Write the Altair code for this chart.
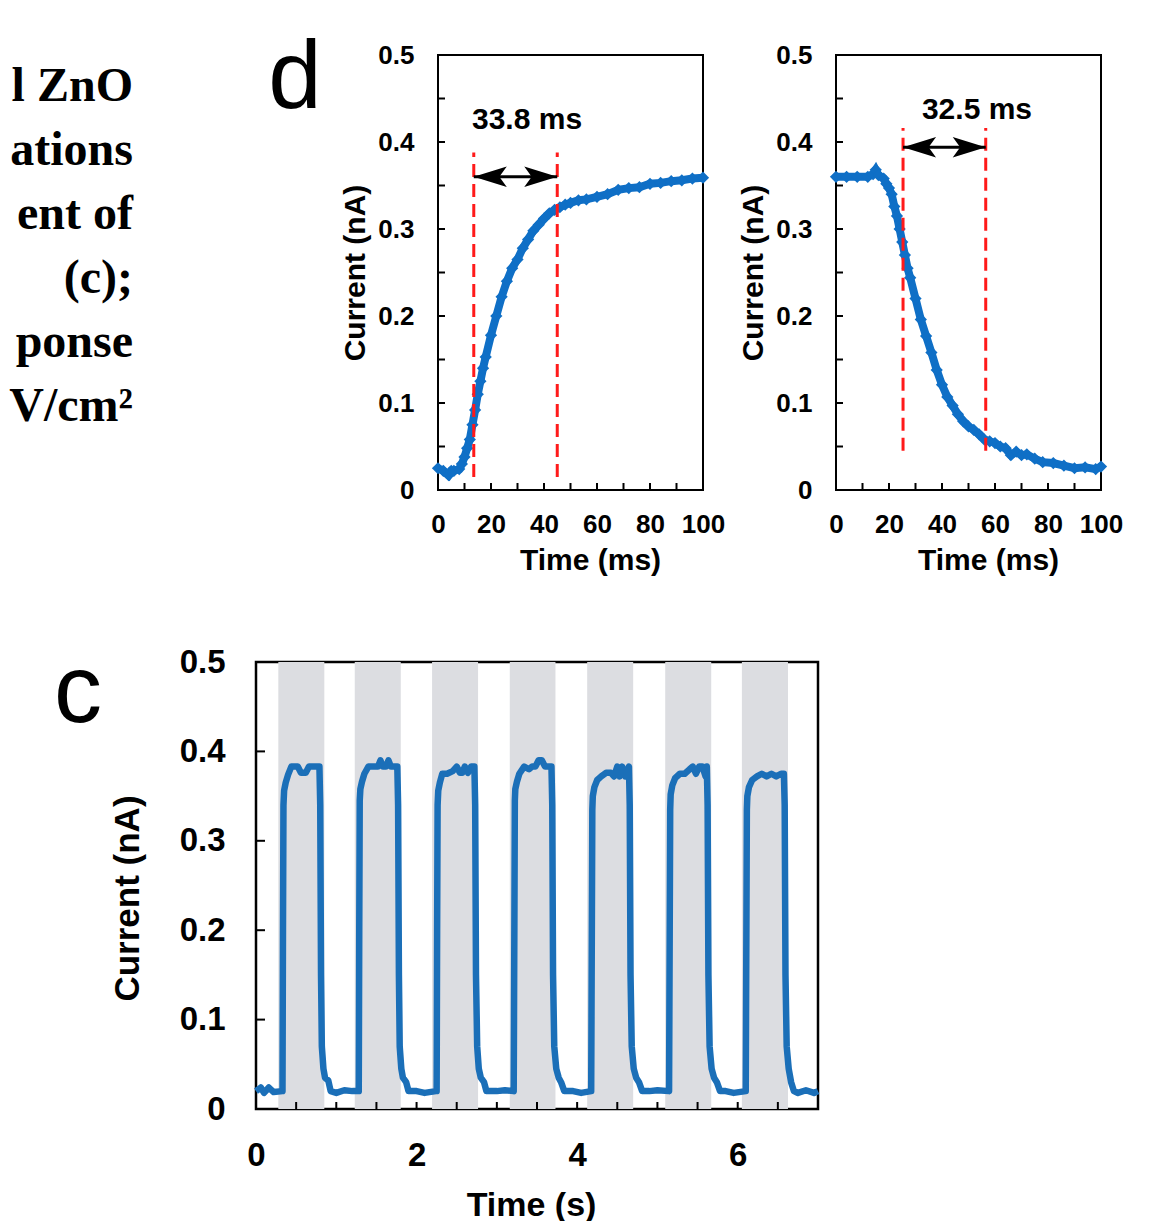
import altair as alt
import pandas as pd

# ---------------- data ----------------
# cropped caption text fragments on the left
text_lines = ["l ZnO", "ations", "ent of", "(c);", "ponse", "V/cm²"]

# panel d, left: rise (ms, nA)
rise_t = [0, 2, 4, 5, 6, 8, 9, 10, 11, 12, 13, 14, 15, 16, 17, 18, 20, 22, 24, 26, 28, 30,
          32, 34, 36, 38, 40, 42, 44, 46, 48, 50, 53, 56, 60, 64, 68, 72, 76, 80, 84, 88,
          92, 96, 100]
rise_i = [0.025, 0.022, 0.017, 0.022, 0.022, 0.024, 0.030, 0.038, 0.048, 0.058, 0.075, 0.092,
          0.110, 0.125, 0.140, 0.153, 0.178, 0.200, 0.222, 0.240, 0.255, 0.265, 0.278, 0.288,
          0.298, 0.305, 0.312, 0.318, 0.322, 0.325, 0.328, 0.330, 0.333, 0.334, 0.337, 0.340,
          0.345, 0.347, 0.348, 0.352, 0.353, 0.355, 0.356, 0.358, 0.359]

# panel d, right: decay (ms, nA)
fall_t = [0, 4, 8, 12, 14, 15, 16, 18, 19, 20, 21, 22, 23, 24, 25, 26, 27, 28, 30, 32, 34, 36,
          38, 40, 42, 44, 46, 48, 50, 52, 54, 56, 58, 60, 62, 64, 66, 68, 70, 72, 75, 78, 82,
          86, 90, 94, 98, 100]
fall_i = [0.360, 0.360, 0.360, 0.360, 0.363, 0.368, 0.362, 0.358, 0.352, 0.347, 0.340, 0.326,
          0.315, 0.300, 0.285, 0.270, 0.255, 0.244, 0.220, 0.196, 0.177, 0.158, 0.138, 0.121,
          0.107, 0.097, 0.087, 0.079, 0.073, 0.069, 0.064, 0.058, 0.056, 0.054, 0.050, 0.048,
          0.040, 0.044, 0.040, 0.041, 0.036, 0.032, 0.031, 0.028, 0.025, 0.026, 0.024, 0.027]

rise_marks = [13.5, 45.0]
rise_red = [0.015, 0.388]
rise_arrow_y = 0.360
rise_label = ["33.8 ms"]
rise_label_x = [33.6]
rise_label_y = [0.425]

fall_marks = [25.3, 56.5]
fall_red = [0.045, 0.416]
fall_arrow_y = 0.394
fall_label = ["32.5 ms"]
fall_label_x = [53.2]
fall_label_y = [0.437]

d_xlabels = [0, 20, 40, 60, 80, 100]
d_xticks = [10, 20, 30, 40, 50, 60, 70, 80, 90]
d_ylabels = [0, 0.1, 0.2, 0.3, 0.4, 0.5]
d_yticks = [0.05, 0.1, 0.15, 0.2, 0.25, 0.3, 0.35, 0.4, 0.45]

# panel c: on/off cycles (s, nA)
c_t = [
    0.00, 0.06, 0.10, 0.16, 0.22, 0.33, 0.336, 0.342, 0.35, 0.37, 0.40, 0.44, 0.52, 0.56, 0.62,
    0.66, 0.70, 0.79, 0.80, 0.81, 0.82, 0.84, 0.86, 0.90, 0.93,
    1.00, 1.10, 1.20, 1.28, 1.286, 1.292, 1.30, 1.32, 1.35, 1.40, 1.48, 1.52, 1.55, 1.58, 1.62,
    1.65, 1.68, 1.76, 1.77, 1.78, 1.79, 1.81, 1.83, 1.87, 1.90,
    2.00, 2.10, 2.24, 2.25, 2.256, 2.262, 2.27, 2.29, 2.32, 2.38, 2.45, 2.50, 2.54, 2.57, 2.60,
    2.64, 2.68, 2.72, 2.73, 2.74, 2.755, 2.775, 2.80, 2.84, 2.87,
    3.00, 3.10, 3.21, 3.218, 3.224, 3.23, 3.25, 3.28, 3.34, 3.40, 3.44, 3.48, 3.52, 3.56, 3.60,
    3.64, 3.68, 3.69, 3.70, 3.715, 3.74, 3.77, 3.80, 3.84,
    3.95, 4.05, 4.175, 4.183, 4.189, 4.195, 4.215, 4.25, 4.30, 4.36, 4.42, 4.46, 4.50, 4.53,
    4.56, 4.60, 4.645, 4.655, 4.665, 4.68, 4.705, 4.735, 4.77, 4.81,
    4.90, 5.00, 5.145, 5.153, 5.159, 5.165, 5.185, 5.22, 5.28, 5.34, 5.40, 5.44, 5.48, 5.52,
    5.56, 5.60, 5.615, 5.625, 5.635, 5.65, 5.675, 5.705, 5.74, 5.78,
    5.85, 5.95, 6.10, 6.108, 6.114, 6.12, 6.14, 6.18, 6.24, 6.30, 6.36, 6.42, 6.48, 6.54, 6.575,
    6.585, 6.595, 6.61, 6.635, 6.665, 6.70, 6.75, 6.85, 6.95, 7.00,
]
c_i = [
    0.020, 0.024, 0.018, 0.024, 0.019, 0.020, 0.200, 0.340, 0.356, 0.365, 0.374, 0.383, 0.383,
    0.376, 0.376, 0.383, 0.383, 0.383, 0.340, 0.150, 0.070, 0.045, 0.035, 0.032, 0.020,
    0.018, 0.021, 0.020, 0.020, 0.200, 0.345, 0.358, 0.366, 0.375, 0.383, 0.383, 0.383, 0.390,
    0.383, 0.383, 0.390, 0.383, 0.383, 0.340, 0.150, 0.070, 0.045, 0.035, 0.030, 0.020,
    0.020, 0.018, 0.020, 0.020, 0.200, 0.340, 0.356, 0.365, 0.375, 0.375, 0.378, 0.383, 0.376,
    0.376, 0.383, 0.376, 0.383, 0.383, 0.340, 0.150, 0.070, 0.045, 0.035, 0.030, 0.020,
    0.020, 0.021, 0.020, 0.200, 0.345, 0.358, 0.366, 0.375, 0.383, 0.380, 0.383, 0.383, 0.390,
    0.390, 0.383, 0.383, 0.383, 0.340, 0.150, 0.070, 0.045, 0.035, 0.030, 0.020,
    0.020, 0.018, 0.020, 0.200, 0.335, 0.350, 0.360, 0.368, 0.372, 0.376, 0.376, 0.372, 0.383,
    0.372, 0.383, 0.372, 0.383, 0.340, 0.150, 0.070, 0.045, 0.035, 0.030, 0.020,
    0.020, 0.021, 0.020, 0.200, 0.335, 0.352, 0.362, 0.370, 0.375, 0.375, 0.380, 0.383, 0.375,
    0.383, 0.383, 0.372, 0.383, 0.340, 0.150, 0.070, 0.045, 0.035, 0.030, 0.020,
    0.020, 0.018, 0.020, 0.200, 0.335, 0.350, 0.360, 0.368, 0.372, 0.375, 0.372, 0.375, 0.372,
    0.375, 0.375, 0.340, 0.150, 0.070, 0.045, 0.030, 0.020, 0.018, 0.021, 0.018, 0.020,
]
band_start = [0.278, 1.230, 2.193, 3.161, 4.125, 5.097, 6.052]
band_end = [0.851, 1.803, 2.766, 3.730, 4.698, 5.670, 6.626]

c_xlabels = [0, 2, 4, 6]
c_xticks = [0.5, 1.0, 1.5, 2.0, 2.5, 3.0, 3.5, 4.0, 4.5, 5.0, 5.5, 6.0, 6.5]
c_ylabels = [0, 0.1, 0.2, 0.3, 0.4, 0.5]
c_yticks = [0.1, 0.2, 0.3, 0.4]

# ---------------- styles ----------------
BLUE_D = "#0f6fc6"
BLUE_C = "#1b6fb8"
RED = "#ff1a1a"
GRAY = "#dcdde1"
SANS = "Liberation Sans"
SERIF = "Liberation Serif"
LEFT_HEAD = "M0,0L2,-0.62L1.55,0L2,0.62Z"
RIGHT_HEAD = "M0,0L-2,-0.62L-1.55,0L-2,0.62Z"
YLAB = "datum.value === 0 ? '0' : format(datum.value, '.1f')"
FRAME_D = alt.ViewBackground(stroke="black", strokeWidth=2)
FRAME_C = alt.ViewBackground(stroke="black", strokeWidth=2.5)
NOFRAME = alt.ViewBackground(strokeWidth=0, strokeOpacity=0)

DW, DH = 265, 435
CW, CH = 562, 447


def d_panel(t, i, marks, red, arrow_y, label, lx, ly):
    xs = alt.Scale(domain=[0, 100], nice=False, zero=False)
    ys = alt.Scale(domain=[0, 0.5], nice=False, zero=False)
    xax = alt.Axis(values=d_xlabels, ticks=False, domain=False, grid=False, labelPadding=21,
                   labelFontSize=26, labelFontWeight="bold", labelFont=SANS, labelColor="black",
                   titleFontSize=30, titlePadding=8, title="Time (ms)", titleX=152,
                   labelFlush=False, format="d")
    yax = alt.Axis(values=d_ylabels, ticks=False, domain=False, grid=False, labelPadding=24,
                   labelFontSize=26, labelFontWeight="bold", labelFont=SANS, labelColor="black",
                   titleFontSize=30, titlePadding=7, title="Current (nA)",
                   labelExpr=YLAB, labelFlush=False)
    df = pd.DataFrame({"x": t, "y": i})
    base = alt.Chart(df)
    line = base.mark_line(color=BLUE_D, strokeWidth=8).encode(
        x=alt.X("x:Q", scale=xs, axis=xax), y=alt.Y("y:Q", scale=ys, axis=yax))
    pts = base.mark_point(shape="diamond", filled=True, size=150, color=BLUE_D, opacity=1).encode(
        x=alt.X("x:Q", scale=xs), y=alt.Y("y:Q", scale=ys))
    xt = alt.Chart(pd.DataFrame({"x": d_xticks})).mark_rule(color="black", strokeWidth=2).encode(
        x=alt.X("x:Q", scale=xs), y=alt.value(DH), y2=alt.value(DH - 7))
    yt = alt.Chart(pd.DataFrame({"y": d_yticks})).mark_rule(color="black", strokeWidth=2).encode(
        y=alt.Y("y:Q", scale=ys), x=alt.value(0), x2=alt.value(7))
    red_df = pd.DataFrame({"x": marks, "y": [red[0]] * 2, "y2": [red[1]] * 2})
    reds = alt.Chart(red_df).mark_rule(color=RED, strokeWidth=3, strokeDash=[13, 7]).encode(
        x=alt.X("x:Q", scale=xs), y=alt.Y("y:Q", scale=ys), y2="y2:Q")
    arr_df = pd.DataFrame({"x": [marks[0]], "x2": [marks[1]], "y": [arrow_y]})
    shaft = alt.Chart(arr_df).mark_rule(color="black", strokeWidth=3).encode(
        x=alt.X("x:Q", scale=xs), x2="x2:Q", y=alt.Y("y:Q", scale=ys))
    lh = alt.Chart(pd.DataFrame({"x": [marks[0]], "y": [arrow_y]})).mark_point(
        shape=LEFT_HEAD, filled=True, size=1089, color="black", opacity=1, strokeWidth=0).encode(
        x=alt.X("x:Q", scale=xs), y=alt.Y("y:Q", scale=ys))
    rh = alt.Chart(pd.DataFrame({"x": [marks[1]], "y": [arrow_y]})).mark_point(
        shape=RIGHT_HEAD, filled=True, size=1089, color="black", opacity=1, strokeWidth=0).encode(
        x=alt.X("x:Q", scale=xs), y=alt.Y("y:Q", scale=ys))
    txt = alt.Chart(pd.DataFrame({"x": lx, "y": ly, "s": label})).mark_text(
        font=SANS, fontWeight="bold", fontSize=30, color="black").encode(
        x=alt.X("x:Q", scale=xs), y=alt.Y("y:Q", scale=ys), text="s:N")
    return alt.layer(line, pts, xt, yt, reds, shaft, lh, rh, txt).properties(
        width=DW, height=DH, view=FRAME_D)


d_left = d_panel(rise_t, rise_i, rise_marks, rise_red, rise_arrow_y, rise_label,
                 rise_label_x, rise_label_y)
d_right = d_panel(fall_t, fall_i, fall_marks, fall_red, fall_arrow_y, fall_label,
                  fall_label_x, fall_label_y)

caption = alt.Chart(pd.DataFrame({"k": list(range(len(text_lines))), "s": text_lines})).mark_text(
    font=SERIF, fontWeight="bold", fontSize=48, align="right", baseline="middle",
    color="black").encode(
    y=alt.Y("k:O", axis=None, scale=alt.Scale(type="point", padding=0.5)),
    x=alt.value(125), text="s:N").properties(width=125, height=384, view=NOFRAME)

d_tag = alt.Chart(pd.DataFrame({"s": ["d"]})).mark_text(
    font=SANS, fontSize=96, baseline="alphabetic", align="center", color="black").encode(
    x=alt.value(151), y=alt.value(53), text="s:N").properties(width=184, height=DH, view=NOFRAME)

# panel c
cxs = alt.Scale(domain=[0, 7], nice=False, zero=False)
cys = alt.Scale(domain=[0, 0.5], nice=False, zero=False)
bands = alt.Chart(pd.DataFrame({"a": band_start, "b": band_end})).mark_rect(color=GRAY).encode(
    x=alt.X("a:Q", scale=cxs, axis=alt.Axis(values=c_xlabels, ticks=False, domain=False,
            grid=False, labelPadding=30, labelFontSize=33, labelFontWeight="bold",
            labelFont=SANS, labelColor="black", titleFontSize=34, titlePadding=16,
            title="Time (s)", titleX=275, labelFlush=False, format="d")),
    x2="b:Q")
cline = alt.Chart(pd.DataFrame({"x": c_t, "y": c_i})).mark_line(
    color=BLUE_C, strokeWidth=6.5, strokeJoin="round").encode(
    x=alt.X("x:Q", scale=cxs),
    y=alt.Y("y:Q", scale=cys, axis=alt.Axis(values=c_ylabels, ticks=False, domain=False,
            grid=False, labelPadding=31, labelFontSize=33, labelFontWeight="bold",
            labelFont=SANS, labelColor="black", titleFontSize=35, titlePadding=34,
            title="Current (nA)", titleY=236, labelExpr=YLAB, labelFlush=False)))
cxt = alt.Chart(pd.DataFrame({"x": c_xticks})).mark_rule(color="black", strokeWidth=2).encode(
    x=alt.X("x:Q", scale=cxs), y=alt.value(CH), y2=alt.value(CH - 7))
cyt = alt.Chart(pd.DataFrame({"y": c_yticks})).mark_rule(color="black", strokeWidth=2).encode(
    y=alt.Y("y:Q", scale=cys), x=alt.value(0), x2=alt.value(9))
c_panel = alt.layer(bands, cline, cxt, cyt).properties(width=CW, height=CH, view=FRAME_C)

c_tag = alt.Chart(pd.DataFrame({"s": ["c"]})).mark_text(
    font=SANS, fontSize=96, baseline="alphabetic", align="center", color="black").encode(
    x=alt.value(70), y=alt.value(60), text="s:N").properties(width=100, height=CH, view=NOFRAME)

top = alt.hconcat(caption, d_tag, d_left, d_right, spacing=11)
bottom = alt.hconcat(c_tag, c_panel, spacing=0)

chart = alt.vconcat(top, bottom, spacing=68).properties(
    padding={"left": 0, "top": 23, "right": 0, "bottom": 0}
).configure_view(stroke="black", strokeWidth=2).configure_axis(
    labelFont=SANS, titleFont=SANS, labelFontWeight="bold", titleFontWeight="bold",
    labelColor="black", titleColor="black"
).configure(background="white")

chart.save("out.html", embed_options={"renderer": "svg", "actions": False})
